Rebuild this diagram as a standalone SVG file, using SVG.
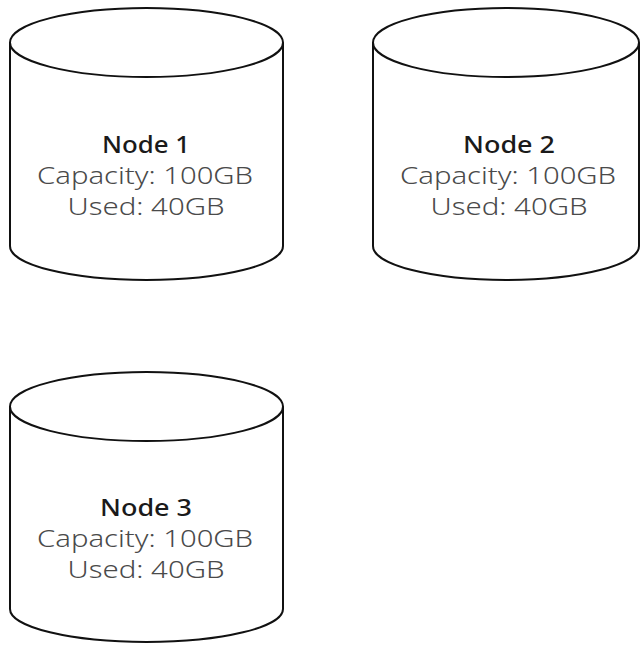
<svg xmlns="http://www.w3.org/2000/svg" width="640" height="645" viewBox="0 0 640 645">
<style>
.cyl{fill:#fff;stroke:#111;stroke-width:2}
.t{font-family:"Noto Sans","Liberation Sans",sans-serif;font-size:24px;text-anchor:middle}
.h{fill:#1a1a1a;font-weight:500}
.s{fill:#4a4a4a;font-weight:300}
</style>
<rect width="640" height="645" fill="#fff"/>
<g id="node1">
<path class="cyl" d="M10,42.5 L10,246 A136.5,34 0 0 0 283,246 L283,42.5"/>
<ellipse class="cyl" cx="146.5" cy="42.5" rx="136.5" ry="34.5"/>
<text class="t h" x="146" y="153" textLength="88" lengthAdjust="spacingAndGlyphs">Node 1</text>
<text class="t s" x="145" y="184" textLength="216" lengthAdjust="spacingAndGlyphs">Capacity: 100GB</text>
<text class="t s" x="146" y="215" textLength="157" lengthAdjust="spacingAndGlyphs">Used: 40GB</text>
</g>
<g id="node2">
<path class="cyl" d="M373,42.5 L373,246 A133,34 0 0 0 639,246 L639,42.5"/>
<ellipse class="cyl" cx="506" cy="42.5" rx="133" ry="34.5"/>
<text class="t h" x="509" y="153" textLength="92" lengthAdjust="spacingAndGlyphs">Node 2</text>
<text class="t s" x="508" y="184" textLength="216" lengthAdjust="spacingAndGlyphs">Capacity: 100GB</text>
<text class="t s" x="509" y="215" textLength="157" lengthAdjust="spacingAndGlyphs">Used: 40GB</text>
</g>
<g id="node3">
<path class="cyl" d="M10,406.5 L10,609 A136.5,33 0 0 0 283,609 L283,406.5"/>
<ellipse class="cyl" cx="146.5" cy="406.5" rx="136.5" ry="34.5"/>
<text class="t h" x="146" y="516" textLength="92" lengthAdjust="spacingAndGlyphs">Node 3</text>
<text class="t s" x="145" y="547" textLength="216" lengthAdjust="spacingAndGlyphs">Capacity: 100GB</text>
<text class="t s" x="146" y="578" textLength="157" lengthAdjust="spacingAndGlyphs">Used: 40GB</text>
</g>
<g id="connectors"/>
</svg>
